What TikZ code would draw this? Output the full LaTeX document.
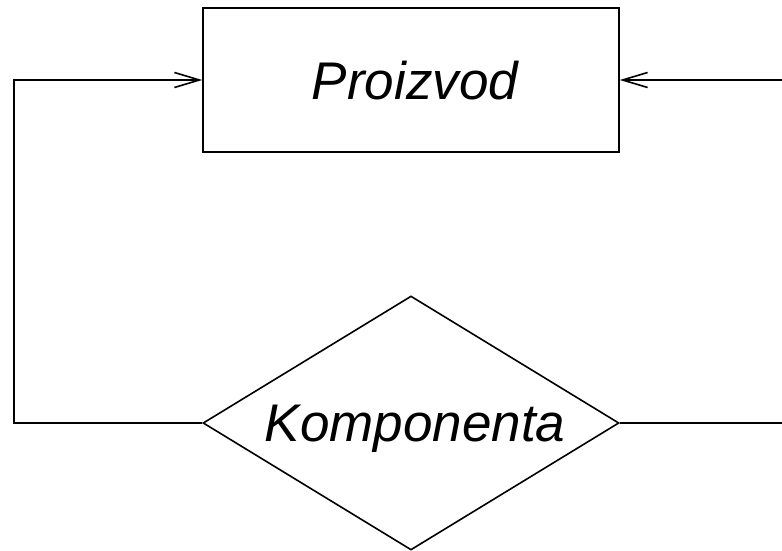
\documentclass[tikz,border=0pt]{standalone}
\usepackage{fontspec}
\setmainfont{Liberation Sans}
\usetikzlibrary{arrows.meta,positioning,shapes.geometric}

\begin{document}
\begin{tikzpicture}[
    x=1pt,
    y=-1pt,
    entity/.style={
      draw,
      line width=1.6pt,
      rectangle,
      minimum width=416pt,
      minimum height=144pt,
      inner sep=0,
      text depth=0pt,
      font=\itshape\fontsize{53}{60}\selectfont\hspace*{8pt},
    },
    relation/.style={
      draw,
      line width=1.6pt,
      diamond,
      aspect=1.64,
      minimum width=416pt,
      minimum height=254pt,
      inner sep=0,
      text depth=0pt,
      font=\itshape\fontsize{53}{60}\selectfont\hspace*{8pt},
    },
    link/.style={
      line width=1.6pt,
      -{Straight Barb[length=25pt,width=15pt,line width=1.6pt]},
    },
  ]
    \useasboundingbox (0,0) rectangle (782,551);

    \node[entity] (proizvod) at (411,80) {Proizvod};
    \node[relation] (komponenta) at (411,423) {Komponenta};

    \coordinate (lbend) at (14,80);
    \coordinate (rbend) at (800,80);

    \draw[link] (komponenta.west) -| (lbend) -- (proizvod.west);
    \draw[link] (komponenta.east) -| (rbend) -- (proizvod.east);
  \end{tikzpicture}
\end{document}
